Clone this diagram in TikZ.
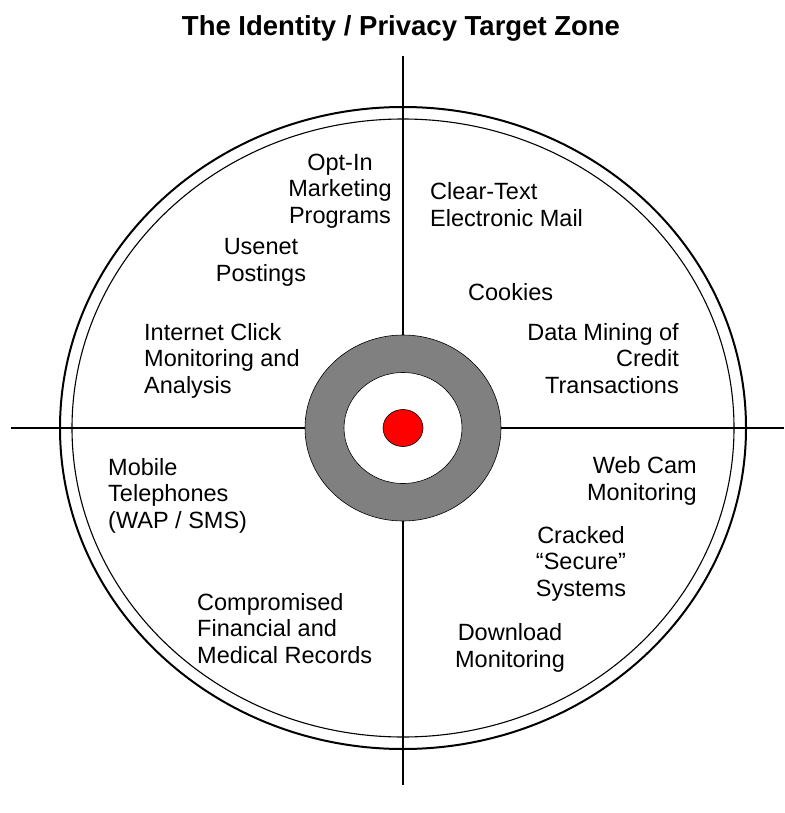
\documentclass[tikz,border=0pt]{standalone}
\usepackage{fontspec}
\setmainfont{Liberation Sans}
\usetikzlibrary{positioning}

\tikzset{
  zone/.style={inner sep=0pt, font=\fontsize{23.5}{26.5}\selectfont},
  ring/.style={draw=black, line width=0.6pt}
}

\begin{document}
\begin{tikzpicture}[x=1pt, y=-1pt]
	%%%%% START %%%%%
	\useasboundingbox (0, 0) rectangle (784, 813);

	\node[inner sep=0pt, anchor=base, font=\fontsize{27.5}{30}\selectfont\bfseries] (title) at (401, 36) {The Identity / Privacy Target Zone};

	% cross hairs
	\draw[line width=1.2pt] (11, 428) -- (784, 428);
	\draw[line width=1.2pt] (403, 56) -- (403, 785);

	% outer double rim
	\draw[line width=2pt] (403, 428) ellipse [x radius=343, y radius=321];
	\draw[line width=1.1pt] (403, 428) ellipse [x radius=331, y radius=309];

	% bull's eye
	\draw[ring, fill=black!50] (403, 428) ellipse [x radius=98, y radius=93];
	\draw[ring, fill=white] (403, 428) ellipse [x radius=59, y radius=55.5];
	\draw[ring, fill=red] (403, 428) ellipse [x radius=20, y radius=18.5];

	% labels are placed by the baseline of their last line
	% upper left
	\node[zone, anchor=base, align=center] (optin) at (340, 223) {Opt-In\\Marketing\\Programs};
	\node[zone, anchor=base, align=center] (usenet) at (261, 281) {Usenet\\Postings};
	\node[zone, anchor=base west, align=left] (click) at (144, 393) {Internet Click\\Monitoring and\\Analysis};

	% upper right
	\node[zone, anchor=base west, align=left] (mail) at (430, 226) {Clear-Text\\Electronic Mail};
	\node[zone, anchor=base west] (cookies) at (468, 300) {Cookies};
	\node[zone, anchor=base east, align=right] (mining) at (679, 393) {Data Mining of\\Credit\\Transactions};

	% lower left
	\node[zone, anchor=base west, align=left] (mobile) at (108, 528) {Mobile\\Telephones\\(WAP / SMS)};
	\node[zone, anchor=base west, align=left] (records) at (197, 663) {Compromised\\Financial and\\Medical Records};

	% lower right
	\node[zone, anchor=base east, align=right] (webcam) at (697, 500) {Web Cam\\Monitoring};
	\node[zone, anchor=base, align=center] (cracked) at (581, 596) {Cracked\\“Secure”\\Systems};
	\node[zone, anchor=base, align=center] (download) at (510, 667) {Download\\Monitoring};
	%%%%% END %%%%%
\end{tikzpicture}
\end{document}
